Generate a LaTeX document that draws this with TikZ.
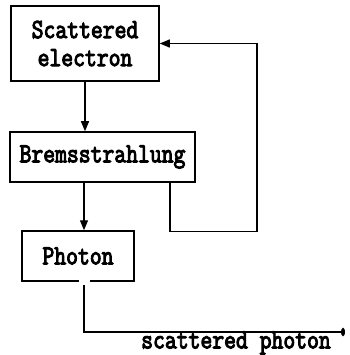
\documentclass[tikz,border=0pt]{standalone}
\usepackage{fontspec}
\usepackage{graphicx}
\usetikzlibrary{arrows.meta,calc}
\newfontfamily\twfont{Latin Modern Mono}[FakeBold=4]
\newcommand{\stt}[1]{\scalebox{1}[1.2]{#1}}
\begin{document}
\begin{tikzpicture}[x=1pt,y=-1pt,
  box/.style={draw,line width=1.5pt,rectangle,inner sep=0pt,align=center,
    font=\twfont\fontsize{23}{28}\selectfont},
  lbl/.style={inner sep=0pt,font=\twfont\fontsize{23}{28}\selectfont},
  conn/.style={line width=1.3pt},
  arr/.style={conn,-{Triangle[length=10pt,width=8pt]}}]
\useasboundingbox (0,0) rectangle (349,355);
\node[box,minimum width=148pt,minimum height=75pt] (b1) at (85,43.5) {\stt{Scattered}\\[0pt]\stt{electron}};
\node[box,minimum width=185pt,minimum height=50pt] (b2) at (102.5,157) {\stt{Bremsstrahlung}};
\node[box,minimum width=112pt,minimum height=50pt] (b3) at (78,256) {\stt{Photon}};
\coordinate (fr) at (257,0);
\coordinate (ph) at (84,0);
\coordinate (end) at (345,332);
\draw[arr] (b1.south) -- (b1.south |- b2.north);
\draw[arr] (ph |- b2.south) -- (ph |- b3.north);
\draw[arr] ($(b2.south)+(67.5,0)$) -- ++(0,49) -| (fr |- b1.east) -- (b1.east);
\fill[white] (79,279.5) rectangle (90,283.5);
\draw[conn,-{Ellipse[length=4pt,width=8pt]}] ($(ph |- b3.south)+(0,3)$) |- (end);
\node[lbl] (sp) at (236,343) {\stt{scattered photon}};
\end{tikzpicture}
\end{document}
